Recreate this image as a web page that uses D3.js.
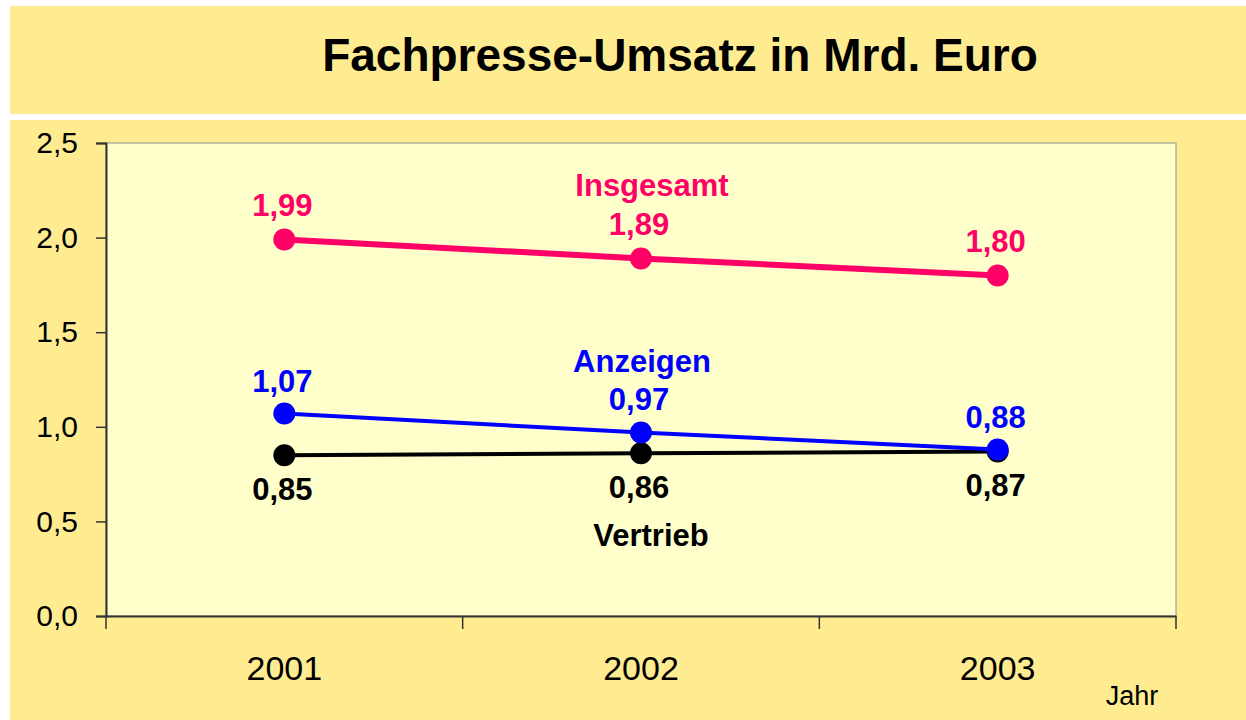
<!DOCTYPE html>
<html lang="de">
<head>
<meta charset="UTF-8">
<title>Fachpresse-Umsatz in Mrd. Euro</title>
<script src="https://d3js.org/d3.v7.min.js"></script>
<style>
  body { margin: 0; background: #ffffff; }
  svg text { font-family: "Liberation Sans", Arial, sans-serif; }
</style>
</head>
<body>
<div id="chart"></div>
<script>
// data
const years = ["2001", "2002", "2003"];
const insgesamt = [1.99, 1.89, 1.80];
const anzeigen = [1.07, 0.97, 0.88];
const vertrieb = [0.85, 0.86, 0.87];
const yTicks = [0, 0.5, 1.0, 1.5, 2.0, 2.5];

const W = 1246, H = 720;
const plot = { left: 106, right: 1176, top: 143, bottom: 616 };

const svg = d3.select("#chart").append("svg")
    .attr("width", W).attr("height", H);

// backgrounds
svg.append("rect").attr("x", 10).attr("y", 6).attr("width", W - 10).attr("height", H - 6)
    .attr("fill", "#ffec91");
svg.append("rect").attr("x", 10).attr("y", 114).attr("width", W - 10).attr("height", 6)
    .attr("fill", "#ffffff");

svg.append("text")
    .attr("x", 680).attr("y", 71)
    .attr("text-anchor", "middle")
    .attr("font-size", 46).attr("font-weight", "bold")
    .text("Fachpresse-Umsatz in Mrd. Euro");

// scales
const x = d3.scaleBand().domain(years).range([plot.left, plot.right]);
const y = d3.scaleLinear().domain([0, 2.5]).range([plot.bottom, plot.top]);
const fmt = d => d3.format(".1f")(d).replace(".", ",");
const fmt2 = d => d3.format(".2f")(d).replace(".", ",");

svg.append("rect")
    .attr("x", plot.left).attr("y", plot.top)
    .attr("width", plot.right - plot.left).attr("height", plot.bottom - plot.top)
    .attr("fill", "#ffffcc").attr("stroke", "#909090").attr("stroke-width", 1);

// y axis
const yAxis = svg.append("g")
    .attr("transform", `translate(${plot.left},0)`)
    .call(d3.axisLeft(y).tickValues(yTicks).tickFormat(fmt).tickSize(10).tickPadding(18));
yAxis.select(".domain").attr("stroke", "#333").attr("stroke-width", 2);
yAxis.selectAll(".tick line").attr("stroke", "#333").attr("stroke-width", 1.5);
yAxis.selectAll("text").attr("font-size", 30).attr("fill", "#000")
    .attr("font-family", "Liberation Sans, Arial, sans-serif");

// x axis with ticks between categories
const xAxis = svg.append("g")
    .attr("transform", `translate(0,${plot.bottom})`)
    .call(d3.axisBottom(x).tickSize(0).tickPadding(40));
xAxis.select(".domain").attr("stroke", "#333").attr("stroke-width", 2);
xAxis.selectAll("text").attr("font-size", 34).attr("fill", "#000")
    .attr("font-family", "Liberation Sans, Arial, sans-serif");
xAxis.selectAll(".sep")
    .data([...years.map(d => x(d)), plot.right])
    .enter().append("line")
    .attr("class", "sep")
    .attr("x1", d => d).attr("x2", d => d)
    .attr("y1", 0).attr("y2", 13)
    .attr("stroke", "#333").attr("stroke-width", 1.5);

svg.append("text")
    .attr("x", 1132).attr("y", 705)
    .attr("text-anchor", "middle")
    .attr("font-size", 27)
    .text("Jahr");

const cx = d => x(d) + x.bandwidth() / 2;

const series = [
  { name: "Vertrieb", values: vertrieb, color: "#000000", width: 4, labelDy: 45, nameX: 651, nameY: 546 },
  { name: "Anzeigen", values: anzeigen, color: "#0000ff", width: 4, labelDy: -22, nameX: 642, nameY: 372 },
  { name: "Insgesamt", values: insgesamt, color: "#ff0066", width: 6, labelDy: -23, nameX: 652, nameY: 196 }
];

const line = d3.line().x(d => cx(d.year)).y(d => y(d.v));

series.forEach(s => {
  const pts = years.map((yr, i) => ({ year: yr, v: s.values[i] }));
  const g = svg.append("g");
  g.append("path").datum(pts)
    .attr("d", line)
    .attr("fill", "none")
    .attr("stroke", s.color)
    .attr("stroke-width", s.width);
  g.selectAll("circle").data(pts).enter().append("circle")
    .attr("cx", d => cx(d.year)).attr("cy", d => y(d.v))
    .attr("r", 11).attr("fill", s.color);
  g.selectAll(".val").data(pts).enter().append("text")
    .attr("class", "val")
    .attr("x", d => cx(d.year) - 2).attr("y", d => y(d.v) + s.labelDy)
    .attr("text-anchor", "middle")
    .attr("font-size", 31).attr("font-weight", "bold")
    .attr("fill", s.color)
    .text(d => fmt2(d.v));
  g.append("text")
    .attr("x", s.nameX).attr("y", s.nameY)
    .attr("text-anchor", "middle")
    .attr("font-size", 31).attr("font-weight", "bold")
    .attr("fill", s.color)
    .text(s.name);
});
</script>
</body>
</html>
